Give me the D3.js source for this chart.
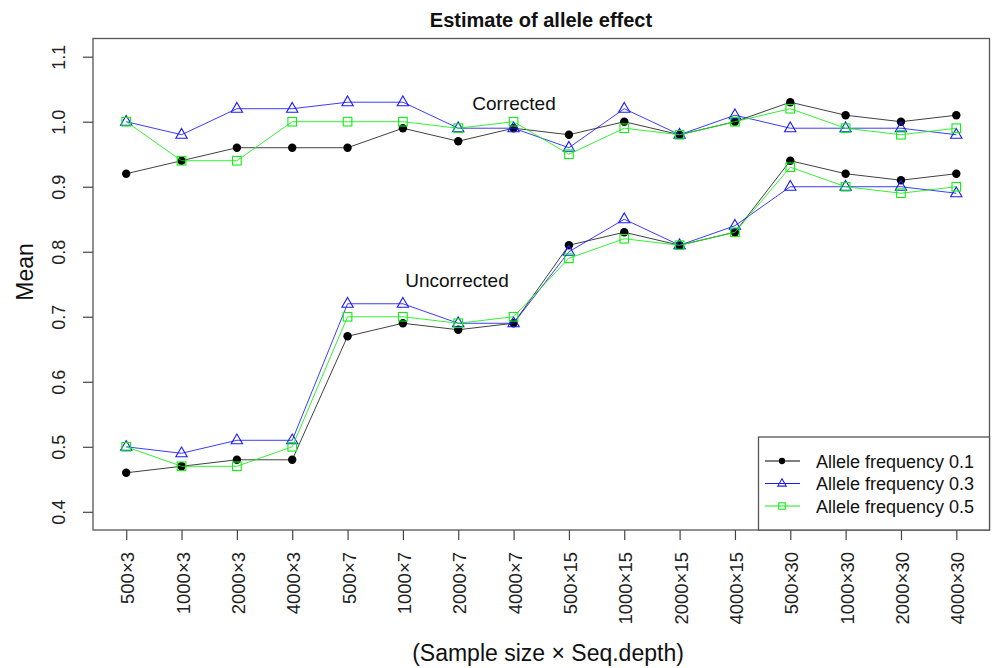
<!DOCTYPE html>
<html>
<head>
<meta charset="utf-8">
<script src="https://cdn.jsdelivr.net/npm/d3@7"></script>
<style>
  html, body { margin: 0; padding: 0; background: #fff; }
  svg { display: block; font-family: "Liberation Sans", Arial, sans-serif; }
</style>
</head>
<body>
<svg id="chart" width="992" height="668"></svg>
<script>
// Sample size × sequencing depth combinations
const categories = ["500×3", "1000×3", "2000×3", "4000×3",
                    "500×7", "1000×7", "2000×7", "4000×7",
                    "500×15", "1000×15", "2000×15", "4000×15",
                    "500×30", "1000×30", "2000×30", "4000×30"];

// Corrected estimates
const corrected01 = [0.92, 0.94, 0.96, 0.96, 0.96, 0.99, 0.97, 0.99, 0.98, 1.00, 0.98, 1.00, 1.03, 1.01, 1.00, 1.01];
const corrected03 = [1.00, 0.98, 1.02, 1.02, 1.03, 1.03, 0.99, 0.99, 0.96, 1.02, 0.98, 1.01, 0.99, 0.99, 0.99, 0.98];
const corrected05 = [1.00, 0.94, 0.94, 1.00, 1.00, 1.00, 0.99, 1.00, 0.95, 0.99, 0.98, 1.00, 1.02, 0.99, 0.98, 0.99];

// Uncorrected estimates
const uncorrected01 = [0.46, 0.47, 0.48, 0.48, 0.67, 0.69, 0.68, 0.69, 0.81, 0.83, 0.81, 0.83, 0.94, 0.92, 0.91, 0.92];
const uncorrected03 = [0.50, 0.49, 0.51, 0.51, 0.72, 0.72, 0.69, 0.69, 0.80, 0.85, 0.81, 0.84, 0.90, 0.90, 0.90, 0.89];
const uncorrected05 = [0.50, 0.47, 0.47, 0.50, 0.70, 0.70, 0.69, 0.70, 0.79, 0.82, 0.81, 0.83, 0.93, 0.90, 0.89, 0.90];

const yTicks = [0.4, 0.5, 0.6, 0.7, 0.8, 0.9, 1.0, 1.1];
const seriesNames = ["Allele frequency 0.1", "Allele frequency 0.3", "Allele frequency 0.5"];

const series = [
  { name: seriesNames[0], color: "#000000", shape: "circle",   groups: [corrected01, uncorrected01] },
  { name: seriesNames[1], color: "#1a1aff", shape: "triangle", groups: [corrected03, uncorrected03] },
  { name: seriesNames[2], color: "#11ee11", shape: "square",   groups: [corrected05, uncorrected05] }
];

const svg = d3.select("#chart");
const box = { left: 93, right: 989.5, top: 38.5, bottom: 530 };

// R-style 4% padding around the data range
const x = d3.scaleLinear().domain([0.4, 16.6]).range([box.left, box.right]);
const y = d3.scaleLinear().domain([0.372, 1.128]).range([box.bottom, box.top]);

// Axes
const yAxis = d3.axisLeft(y).tickValues(yTicks).tickSize(10).tickFormat(d3.format(".1f")).tickPadding(0);
const gy = svg.append("g").attr("transform", `translate(${box.left},0)`).call(yAxis);
gy.select(".domain").remove();
gy.selectAll(".tick line").attr("stroke", "#444").attr("stroke-width", 1.2);
gy.selectAll(".tick text")
  .attr("x", 0).attr("dy", 0)
  .attr("transform", "translate(-28,0) rotate(-90)")
  .attr("text-anchor", "middle")
  .attr("font-size", 18).attr("fill", "#222");

const xAxis = d3.axisBottom(x).tickValues(d3.range(1, 17)).tickSize(10)
  .tickFormat(i => categories[i - 1]);
const gx = svg.append("g").attr("transform", `translate(0,${box.bottom})`).call(xAxis);
gx.select(".domain").remove();
gx.selectAll(".tick line").attr("stroke", "#444").attr("stroke-width", 1.2);
gx.selectAll(".tick text")
  .attr("y", 0).attr("dy", 0)
  .attr("transform", "translate(7.5,22) rotate(-90)")
  .attr("text-anchor", "end")
  .attr("font-size", 18.5).attr("fill", "#222");

// Plot frame
svg.append("rect")
  .attr("x", box.left).attr("y", box.top)
  .attr("width", box.right - box.left).attr("height", box.bottom - box.top)
  .attr("fill", "none").attr("stroke", "#555").attr("stroke-width", 1.3);

// Markers
function drawMarker(g, shape, color, cx, cy, scale = 1) {
  if (shape === "circle") {
    g.append("circle").attr("cx", cx).attr("cy", cy).attr("r", 4.2 * scale).attr("fill", color);
  } else if (shape === "triangle") {
    const s = 6.3 * scale;
    g.append("path")
      .attr("d", `M${cx},${cy - s}L${cx + s * 0.9},${cy + s * 0.55}L${cx - s * 0.9},${cy + s * 0.55}Z`)
      .attr("fill", "none").attr("stroke", color).attr("stroke-width", 1.1);
  } else {
    const s = 4.3 * scale;
    g.append("rect").attr("x", cx - s).attr("y", cy - s).attr("width", 2 * s).attr("height", 2 * s)
      .attr("fill", "none").attr("stroke", color).attr("stroke-width", 1.1);
  }
}

const line = d3.line().x((d, i) => x(i + 1)).y(d => y(d));
const plot = svg.append("g");
series.forEach(s => {
  s.groups.forEach(vals => {
    plot.append("path").datum(vals).attr("d", line)
      .attr("fill", "none").attr("stroke", s.color).attr("stroke-width", 1)
      .attr("stroke-opacity", s.shape === "circle" ? 0.75 : 0.85);
    vals.forEach((v, i) => drawMarker(plot, s.shape, s.color, x(i + 1), y(v)));
  });
});

// Group annotations
svg.append("text").attr("x", 514).attr("y", 110).attr("text-anchor", "middle")
  .attr("font-size", 19).attr("fill", "#111").text("Corrected");
svg.append("text").attr("x", 457).attr("y", 287).attr("text-anchor", "middle")
  .attr("font-size", 19).attr("fill", "#111").text("Uncorrected");

// Title and axis labels
svg.append("text").attr("x", 541).attr("y", 27).attr("text-anchor", "middle")
  .attr("font-size", 20).attr("font-weight", "bold").attr("fill", "#111").text("Estimate of allele effect");
svg.append("text").attr("transform", "translate(33,272) rotate(-90)").attr("text-anchor", "middle")
  .attr("font-size", 23).attr("fill", "#111").text("Mean");
svg.append("text").attr("x", 548).attr("y", 661).attr("text-anchor", "middle")
  .attr("font-size", 23).attr("fill", "#111").text("(Sample size × Seq.depth)");

// Legend
const legend = svg.append("g");
legend.append("rect").attr("x", 758.5).attr("y", 437).attr("width", box.right - 758.5).attr("height", box.bottom - 437)
  .attr("fill", "#fff").attr("stroke", "#555").attr("stroke-width", 1.3);
series.forEach((s, i) => {
  const ly = 461 + i * 22.5;
  legend.append("line").attr("x1", 765).attr("x2", 800).attr("y1", ly).attr("y2", ly)
    .attr("stroke", s.color).attr("stroke-width", 1);
  drawMarker(legend, s.shape, s.color, 782, ly, 0.75);
  legend.append("text").attr("x", 816).attr("y", ly + 6.5).attr("font-size", 18).attr("fill", "#111").text(s.name);
});
</script>
</body>
</html>
